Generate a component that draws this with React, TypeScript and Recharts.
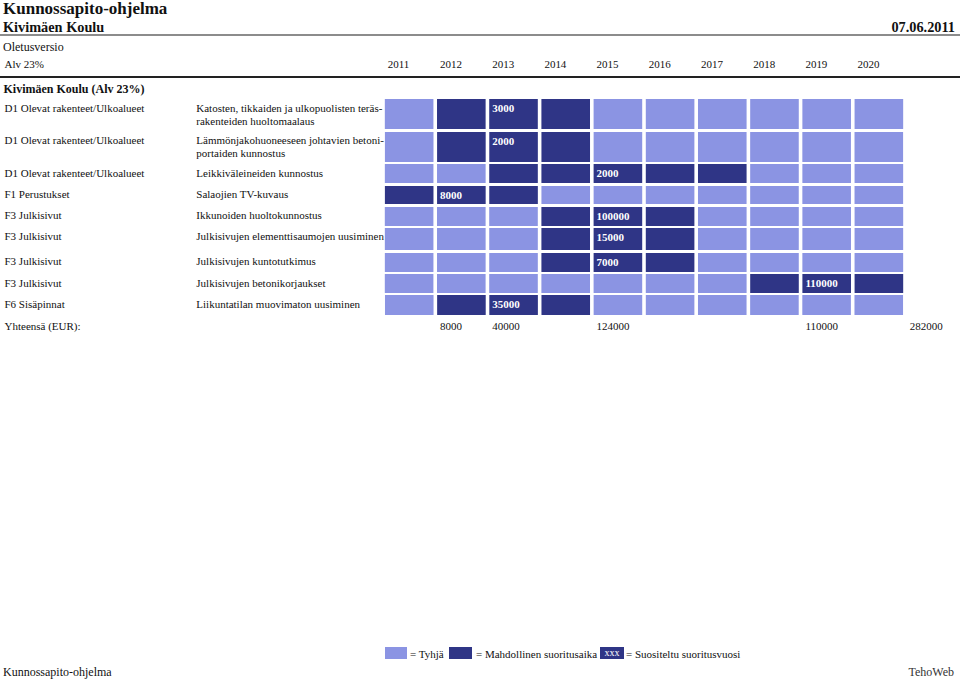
import React from "react";
import { Bar, BarChart, XAxis, YAxis } from "recharts";

// Vuodet (sarakkeet)
const YEARS = ["2011", "2012", "2013", "2014", "2015", "2016", "2017", "2018", "2019", "2020"];

// Rivien rakenneosat
const CATEGORIES = [
  "D1 Olevat rakenteet/Ulkoalueet",
  "D1 Olevat rakenteet/Ulkoalueet",
  "D1 Olevat rakenteet/Ulkoalueet",
  "F1 Perustukset",
  "F3 Julkisivut",
  "F3 Julkisivut",
  "F3 Julkisivut",
  "F3 Julkisivut",
  "F6 Sisäpinnat",
];

// Toimenpiteiden kuvaukset (rivitettynä kuten raportissa)
const DESCRIPTIONS = [
  ["Katosten, tikkaiden ja ulkopuolisten teräs-", "rakenteiden huoltomaalaus"],
  ["Lämmönjakohuoneeseen johtavien betoni-", "portaiden kunnostus"],
  ["Leikkiväleineiden kunnostus"],
  ["Salaojien TV-kuvaus"],
  ["Ikkunoiden huoltokunnostus"],
  ["Julkisivujen elementtisaumojen uusiminen"],
  ["Julkisivujen kuntotutkimus"],
  ["Julkisivujen betonikorjaukset"],
  ["Liikuntatilan muovimaton uusiminen"],
];

// 0 = tyhjä, 1 = mahdollinen suoritusaika, 2 = suositeltu suoritusvuosi
const STATES = [
  [0, 1, 2, 1, 0, 0, 0, 0, 0, 0],
  [0, 1, 2, 1, 0, 0, 0, 0, 0, 0],
  [0, 0, 1, 1, 2, 1, 1, 0, 0, 0],
  [1, 2, 1, 0, 0, 0, 0, 0, 0, 0],
  [0, 0, 0, 1, 2, 1, 0, 0, 0, 0],
  [0, 0, 0, 1, 2, 1, 0, 0, 0, 0],
  [0, 0, 0, 1, 2, 1, 0, 0, 0, 0],
  [0, 0, 0, 0, 0, 0, 0, 1, 2, 1],
  [0, 1, 2, 1, 0, 0, 0, 0, 0, 0],
];

// Kustannukset (EUR, alv 23%)
const COSTS = [3000, 2000, 2000, 8000, 100000, 15000, 7000, 110000, 35000];

const LIGHT = "#8b94e3";
const DARK = "#2f3586";
const FONT = "'Liberation Serif', 'Times New Roman', serif";

// ruudukon mitat
const COL_W = 52.2;
const COL_GAP = 3.6;
const GRID_LEFT = 384.7 - COL_GAP / 2;
const N_COLS = YEARS.length + 1; // viimeinen sarake = yhteensä
const GRID_W = COL_W * N_COLS;
const FIRST_ROW_TOP = 99;
const ROW_GAP = 2.3;
const ROW_HEIGHTS = [30.3, 30.2, 19.3, 18.6, 19, 22.3, 19.3, 19, 19.7];

const YEAR_KEYS = YEARS.map((y) => `y${y}`);
const TOTAL_KEYS = [...YEAR_KEYS, "total"];

const rowTops: number[] = [];
ROW_HEIGHTS.reduce((top, h) => {
  rowTops.push(top);
  return top + h + ROW_GAP;
}, FIRST_ROW_TOP);

const yearTotals = YEARS.map((_, c) =>
  STATES.reduce((sum, row, r) => sum + (row[c] === 2 ? COSTS[r] : 0), 0),
);
const grandTotal = yearTotals.reduce((a, b) => a + b, 0);

function unitRow(keys: string[]) {
  const d: Record<string, number | string> = { name: "r" };
  keys.forEach((k) => (d[k] = 1));
  return [d];
}

const MARGIN = { top: 0, right: 0, bottom: 0, left: 0 };

function Axes() {
  return (
    <>
      <XAxis type="number" domain={[0, N_COLS]} tickCount={N_COLS + 1} allowDecimals={false} hide />
      <YAxis type="category" dataKey="name" hide />
    </>
  );
}

/** Yksi toimenpiderivi: pinotut 1-yksikön palkit = vuosiruudut. */
function GridRow({ states, cost, top, height }: { states: number[]; cost: number; top: number; height: number }) {
  return (
    <div style={{ position: "absolute", left: GRID_LEFT, top }}>
      <BarChart
        width={GRID_W}
        height={height}
        data={unitRow(YEAR_KEYS)}
        layout="vertical"
        margin={MARGIN}
        barCategoryGap={0}
      >
        {Axes()}
        {YEAR_KEYS.map((key, i) => (
          <Bar
            key={key}
            dataKey={key}
            stackId="s"
            isAnimationActive={false}
            shape={(p: any) => (
              <g>
                <rect
                  x={p.x + COL_GAP / 2}
                  y={p.y}
                  width={p.width - COL_GAP}
                  height={p.height}
                  fill={states[i] ? DARK : LIGHT}
                />
                {states[i] === 2 && (
                  <text
                    x={p.x + COL_GAP / 2 + 3}
                    y={p.y + 13.2}
                    fill="#fff"
                    fontSize={11}
                    fontWeight="bold"
                    fontFamily={FONT}
                  >
                    {cost}
                  </text>
                )}
              </g>
            )}
          />
        ))}
      </BarChart>
    </div>
  );
}

/** Tekstirivi samoilla sarakkeilla (vuosiotsikot, summat). */
function LabelRow({ keys, labels, top }: { keys: string[]; labels: string[]; top: number }) {
  return (
    <div style={{ position: "absolute", left: GRID_LEFT, top }}>
      <BarChart width={GRID_W} height={16} data={unitRow(keys)} layout="vertical" margin={MARGIN} barCategoryGap={0}>
        {Axes()}
        {keys.map((key, i) => (
          <Bar
            key={key}
            dataKey={key}
            stackId="s"
            isAnimationActive={false}
            shape={(p: any) => (
              <text x={p.x + COL_GAP / 2 + 3} y={p.y + 11.7} fill="#111" fontSize={11} fontFamily={FONT}>
                {labels[i]}
              </text>
            )}
          />
        ))}
      </BarChart>
    </div>
  );
}

function T({
  x,
  cy,
  size,
  bold,
  right,
  color,
  children,
}: {
  x: number;
  cy: number;
  size: number;
  bold?: boolean;
  right?: boolean;
  color?: string;
  children: React.ReactNode;
}) {
  return (
    <div
      style={{
        position: "absolute",
        top: cy - 10,
        height: 20,
        lineHeight: "20px",
        fontSize: size,
        fontWeight: bold ? "bold" : "normal",
        whiteSpace: "nowrap",
        color: color ?? "#111",
        ...(right ? { right: 960 - x } : { left: x }),
      }}
    >
      {children}
    </div>
  );
}

export default function App() {
  const rowText = { position: "absolute" as const, fontSize: 11, lineHeight: "13px", whiteSpace: "nowrap" as const };
  return (
    <div
      style={{
        position: "absolute",
        left: 0,
        top: 0,
        width: 960,
        height: 679,
        background: "#fff",
        fontFamily: FONT,
        color: "#111",
        overflow: "hidden",
      }}
    >
      <T x={3} cy={9} size={17} bold>
        Kunnossapito-ohjelma
      </T>
      <T x={3} cy={27} size={14.3} bold>
        Kivimäen Koulu
      </T>
      <T x={955} cy={27} size={14.3} bold right>
        07.06.2011
      </T>
      <div style={{ position: "absolute", left: 0, top: 33.5, width: 960, height: 2, background: "#8c8c8c" }} />
      <T x={3} cy={46.5} size={12}>
        Oletusversio
      </T>
      <T x={4.5} cy={63.5} size={11}>
        Alv 23%
      </T>
      <LabelRow keys={YEAR_KEYS} labels={YEARS} top={55.5} />
      <div style={{ position: "absolute", left: 0, top: 76, width: 960, height: 2, background: "#222" }} />
      <T x={3.5} cy={89} size={12} bold>
        Kivimäen Koulu (Alv 23%)
      </T>

      {CATEGORIES.map((cat, r) => (
        <React.Fragment key={r}>
          <div style={{ ...rowText, left: 4.5, top: rowTops[r] + 2.5 }}>{cat}</div>
          <div style={{ ...rowText, left: 196.3, top: rowTops[r] + 2.5 }}>
            {DESCRIPTIONS[r].map((line, k) => (
              <div key={k}>{line}</div>
            ))}
          </div>
          <GridRow states={STATES[r]} cost={COSTS[r]} top={rowTops[r]} height={ROW_HEIGHTS[r]} />
        </React.Fragment>
      ))}

      <T x={4.5} cy={326} size={11}>
        Yhteensä (EUR):
      </T>
      <LabelRow
        keys={TOTAL_KEYS}
        labels={[...yearTotals, grandTotal].map((v) => (v > 0 ? String(v) : ""))}
        top={318}
      />

      {/* selite */}
      <div style={{ position: "absolute", left: 384.5, top: 647, width: 22.5, height: 12, background: LIGHT }} />
      <T x={410} cy={653.5} size={11}>
        = Tyhjä
      </T>
      <div style={{ position: "absolute", left: 448.5, top: 647, width: 23, height: 12, background: DARK }} />
      <T x={476} cy={653.5} size={11}>
        = Mahdollinen suoritusaika
      </T>
      <div
        style={{
          position: "absolute",
          left: 600,
          top: 647,
          width: 24,
          height: 12,
          background: DARK,
          color: "#fff",
          fontSize: 10,
          lineHeight: "12px",
          textAlign: "center",
        }}
      >
        xxx
      </div>
      <T x={626} cy={653.5} size={11}>
        = Suositeltu suoritusvuosi
      </T>

      <T x={3} cy={671.5} size={12}>
        Kunnossapito-ohjelma
      </T>
      <T x={954} cy={671.5} size={12} right color="#333">
        TehoWeb
      </T>
    </div>
  );
}
